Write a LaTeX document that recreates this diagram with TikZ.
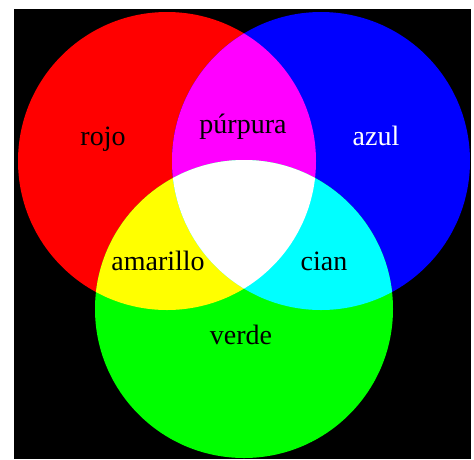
\documentclass[tikz,border=0pt]{standalone}
\usepackage{fontspec}
\setmainfont{Liberation Serif}
\usetikzlibrary{positioning}
\definecolor{LuzRoja}{RGB}{255,0,0}
\definecolor{LuzAzul}{RGB}{0,0,255}
\definecolor{LuzVerde}{RGB}{0,255,0}
\definecolor{LuzPurpura}{RGB}{255,0,255}
\definecolor{LuzAmarilla}{RGB}{255,255,0}
\definecolor{LuzCian}{RGB}{0,255,255}
\newcommand{\circRojo}{(167,161) circle[radius=149pt]}
\newcommand{\circAzul}{(321,161) circle[radius=149pt]}
\newcommand{\circVerde}{(244,309) circle[radius=149pt]}
\tikzset{
  etiqueta/.style = {font=\fontsize{28}{30}\selectfont, inner sep=0pt, anchor=base},
  fondo/.style    = {fill=black},
}

\begin{document}
\begin{tikzpicture}[x=1pt, y=-1pt]
  \useasboundingbox (0,0) rectangle (474,459);
  \fill[white] (0,0) rectangle (474,459);
  \fill[fondo] (14,9) rectangle (471,459);
  % circulos primarios
  \fill[LuzRoja] \circRojo;
  \fill[LuzAzul] \circAzul;
  \fill[LuzVerde] \circVerde;
  % mezclas
  \begin{scope}
    \clip \circRojo;
    \fill[LuzPurpura] \circAzul;
  \end{scope}
  \begin{scope}
    \clip \circRojo;
    \fill[LuzAmarilla] \circVerde;
  \end{scope}
  \begin{scope}
    \clip \circAzul;
    \fill[LuzCian] \circVerde;
  \end{scope}
  \begin{scope}
    \clip \circRojo;
    \clip \circAzul;
    \fill[white] \circVerde;
  \end{scope}
  % textos
  \node[etiqueta] (rojo) at (103,145) {rojo};
  \node[etiqueta] (purpura) at (243,133) {púrpura};
  \node[etiqueta, text=white] (azul) at (376,145) {azul};
  \node[etiqueta] (amarillo) at (158,270) {amarillo};
  \node[etiqueta] (cian) at (324,270) {cian};
  \node[etiqueta] (verde) at (241,344) {verde};
\end{tikzpicture}
\end{document}
